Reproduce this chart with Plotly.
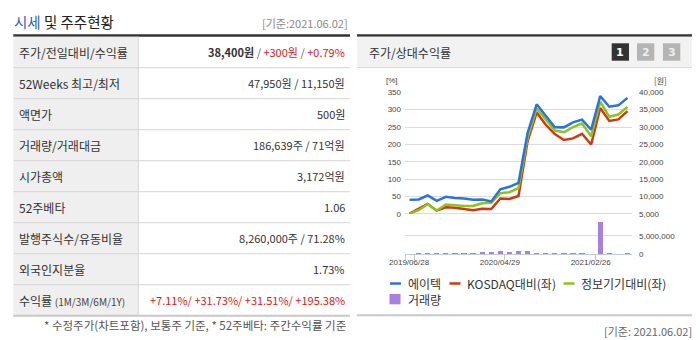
import plotly.graph_objects as go

W, H = 700, 340


def px(x):
    return x / W


def py(y):
    return 1 - y / H


# ---------------- data ----------------
months = ["2019/06", "2019/07", "2019/08", "2019/09", "2019/10", "2019/11", "2019/12",
          "2020/01", "2020/02", "2020/03", "2020/04", "2020/05", "2020/06", "2020/07",
          "2020/08", "2020/09", "2020/10", "2020/11", "2020/12", "2021/01", "2021/02",
          "2021/03", "2021/04", "2021/05", "2021/06"]
tick_index = [0, 10, 20]
tick_labels = ["2019/06/28", "2020/04/29", "2021/02/26"]

price = [9000, 9100, 10250, 8700, 9850, 9500, 9400, 9050, 9100, 8550, 12050, 12750, 13900,
         28250, 36550, 33100, 29950, 29900, 31350, 32150, 29200, 38900, 35850, 36250, 38400]
kosdaq_rel = [0, 14.5, 28, 8.7, 18.4, 17.4, 13, 10, 14.5, 13.5, 43.8, 42.3, 51.2,
              208.5, 291.7, 256.5, 229.5, 212.7, 217.3, 230.5, 199.5, 304.8, 267.7, 272, 296]
sector_rel = [0, 10, 27.5, 9, 26.5, 24, 22.5, 22.5, 30, 31.5, 59, 62, 74,
              218.5, 303.6, 271.7, 239.8, 235, 249.5, 260, 223, 323, 279.6, 286, 308]
volume = [0, 250000, 250000, 250000, 250000, 450000, 250000, 250000, 720000, 720000,
          985000, 720000, 985000, 985000, 450000, 450000, 250000, 250000, 250000, 250000,
          0, 8700000, 250000, 0, 250000]

series_names = ["에이텍", "KOSDAQ대비(좌)", "정보기기대비(좌)", "거래량"]
series_colors = ["#2a72de", "#d2380f", "#8cc31f", "#a97fe0"]

RED = "#e8150f"
table_labels = ["주가/전일대비/수익률", "52Weeks 최고/최저", "액면가", "거래량/거래대금",
                "시가총액", "52주베타", "발행주식수/유동비율", "외국인지분율",
                "수익률 <span style='font-size:10px;color:#444'>(1M/3M/6M/1Y)</span>"]
table_values = [
    "<b>38,400원</b> <span style='color:#666'>/</span> <span style='color:%s'>+300원</span>"
    " <span style='color:#666'>/</span> <span style='color:%s'>+0.79%%</span>" % (RED, RED),
    "47,950원 / 11,150원",
    "500원",
    "186,639주 / 71억원",
    "3,172억원",
    "1.06",
    "8,260,000주 / 71.28%",
    "1.73%",
    "<span style='color:%s'>+7.11%%/ +31.73%%/ +31.51%%/ +195.38%%</span>" % RED,
]

KR = "Noto Sans CJK KR"
TICKFONT = dict(family="Liberation Sans", size=8, color="#444")

fig = go.Figure()

# ---------------- chart traces ----------------
xs = list(range(len(months)))
fig.add_trace(go.Bar(x=xs, y=volume, xaxis="x", yaxis="y3", marker_color=series_colors[3],
                     marker_line_width=0, width=0.58, name=series_names[3]))
fig.add_trace(go.Scatter(x=xs, y=kosdaq_rel, xaxis="x", yaxis="y", mode="lines",
                         line=dict(color=series_colors[1], width=2.5), name=series_names[1]))
fig.add_trace(go.Scatter(x=xs, y=sector_rel, xaxis="x", yaxis="y", mode="lines",
                         line=dict(color=series_colors[2], width=2.5), name=series_names[2]))
fig.add_trace(go.Scatter(x=xs, y=price, xaxis="x", yaxis="y2", mode="lines",
                         line=dict(color=series_colors[0], width=2.5), name=series_names[0]))

X0, X1 = 405, 632
GRID = "#dcdcdc"
n = len(months)
fig.update_layout(
    width=W, height=H, margin=dict(l=0, r=0, t=0, b=0, pad=0, autoexpand=False),
    paper_bgcolor="white", plot_bgcolor="rgba(0,0,0,0)", showlegend=False,
    bargap=0,
    xaxis=dict(domain=[px(X0), px(X1)], anchor="y3", range=[-0.5, n - 0.5], automargin=False,
               showgrid=False, zeroline=False, showline=True, linecolor="#c3cad8",
               ticks="outside", ticklen=5, tickcolor="#c3cad8",
               tickvals=[-0.5] + [i + 0.5 for i in tick_index],
               ticktext=[""] + tick_labels, ticklabelshift=-5,
               ticklabelstandoff=-5, tickfont=TICKFONT),
    yaxis=dict(domain=[py(213.7), py(92.0)], anchor="x", range=[0, 351], dtick=50,
               automargin=False,
               showgrid=True, gridcolor=GRID, zeroline=True, zerolinecolor=GRID,
               zerolinewidth=1, tickfont=TICKFONT, ticklabelstandoff=3),
    yaxis2=dict(overlaying="y", side="right", anchor="x", range=[5000, 40100], dtick=5000,
                automargin=False,
                tickformat=",", showgrid=False, zeroline=False, tickfont=TICKFONT,
                ticklabelstandoff=6),
    yaxis3=dict(domain=[py(254.3), py(216)], anchor="x", side="right", range=[0, 10.3e6],
                automargin=False,
                tickvals=[0, 5000000], tickformat=",", showgrid=True, gridcolor=GRID,
                zeroline=False, tickfont=TICKFONT, ticklabelstandoff=6),
)

shapes = []
ann = []


def rect(x0, y0, x1, y1, color):
    shapes.append(dict(type="rect", xref="paper", yref="paper", x0=px(x0), x1=px(x1),
                       y0=py(y1), y1=py(y0), fillcolor=color, line=dict(width=0), layer="below"))


def hline(x0, x1, y, color, w=1):
    shapes.append(dict(type="line", xref="paper", yref="paper", x0=px(x0), x1=px(x1),
                       y0=py(y), y1=py(y), line=dict(color=color, width=w)))


def vline(x, y0, y1, color, w=1):
    shapes.append(dict(type="line", xref="paper", yref="paper", x0=px(x), x1=px(x),
                       y0=py(y0), y1=py(y1), line=dict(color=color, width=w)))


def text(x, y, s, size=12, color="#333", anchor="left", family=KR):
    ann.append(dict(xref="paper", yref="paper", x=px(x), y=py(y), text=s, showarrow=False,
                    xanchor=anchor, yanchor="middle", font=dict(family=family, size=size, color=color),
                    borderpad=0))


# ---------------- left table ----------------
TL, TR, TC = 13.3, 350, 138.3
TOP, ROWH = 36.7, 31
text(TL, 22, "<span style='color:#2b5bc8'>시세</span> 및 주주현황", size=14.5, color="#222")
text(349, 23, "[기준:2021.06.02]", size=11, color="#888", anchor="right")
rect(TL, 34.3, TR, 36.7, "#333333")
nrows = len(table_labels)
rect(TL, TOP, TC, TOP + ROWH * nrows, "#efefef")
for k in range(1, nrows):
    hline(TL, TR, TOP + ROWH * k, "#d6d6d6")
vline(TC, TOP, TOP + ROWH * nrows, "#d6d6d6")
rect(TL, TOP + ROWH * nrows - 1, TR, TOP + ROWH * nrows + 1, "#c8c8c8")
for k, (lab, val) in enumerate(zip(table_labels, table_values)):
    yc = TOP + ROWH * k + ROWH / 2
    text(17.5, yc, lab, size=12, color="#333")
    text(346, yc, val, size=11, color="#333", anchor="right")
text(347, 324.5, "* 수정주가(차트포함), 보통주 기준, * 52주베타: 주간수익률 기준", size=11.5,
     color="#555", anchor="right")

# ---------------- right panel frame ----------------
RL, RR = 357, 692
rect(RL, 34.3, RR, 36.7, "#333333")
rect(RL, 36.7, RR, 67, "#f2f2f2")
hline(RL, RR, 67.5, "#dcdcdc")
text(367.7, 52, "주가/상대수익률", size=12, color="#333")
for i, (bx, bg, fg) in enumerate([(611.7, "#333333", "#ffffff"), (637, "#b4b4b4", "#eeeeee"),
                                  (663, "#b4b4b4", "#eeeeee")]):
    rect(bx, 43.3, bx + 17.3, 60.7, bg)
    text(bx + 8.65, 52, "<b>%d</b>" % (i + 1), size=11, color=fg, anchor="center",
         family="DejaVu Sans")
text(392, 80, "[%]", size=8, color="#444", anchor="center", family="Liberation Sans")
text(660.5, 80, "[원]", size=8, color="#444", anchor="center", family=KR)

# legend (manual, compact symbols)
leg_pos = [(390, 283.5), (449.5, 283.5), (563.5, 283.5), (390, 299.3)]
for k, (name, col) in enumerate(zip(series_names, series_colors)):
    lx, ly = leg_pos[k]
    if k < 3:
        hline(lx, lx + 11, ly, col, 2.5)
    else:
        rect(lx - 0.5, ly - 5.3, lx + 10.5, ly + 5, col)
    text(lx + 16.5, ly, name, size=12, color="#333")

rect(RL, 314.3, RR, 316.3, "#c8c8c8")
text(693, 331, "[기준: 2021.06.02]", size=11, color="#666", anchor="right")

fig.update_layout(shapes=shapes, annotations=ann)
fig.write_html("out.html")
